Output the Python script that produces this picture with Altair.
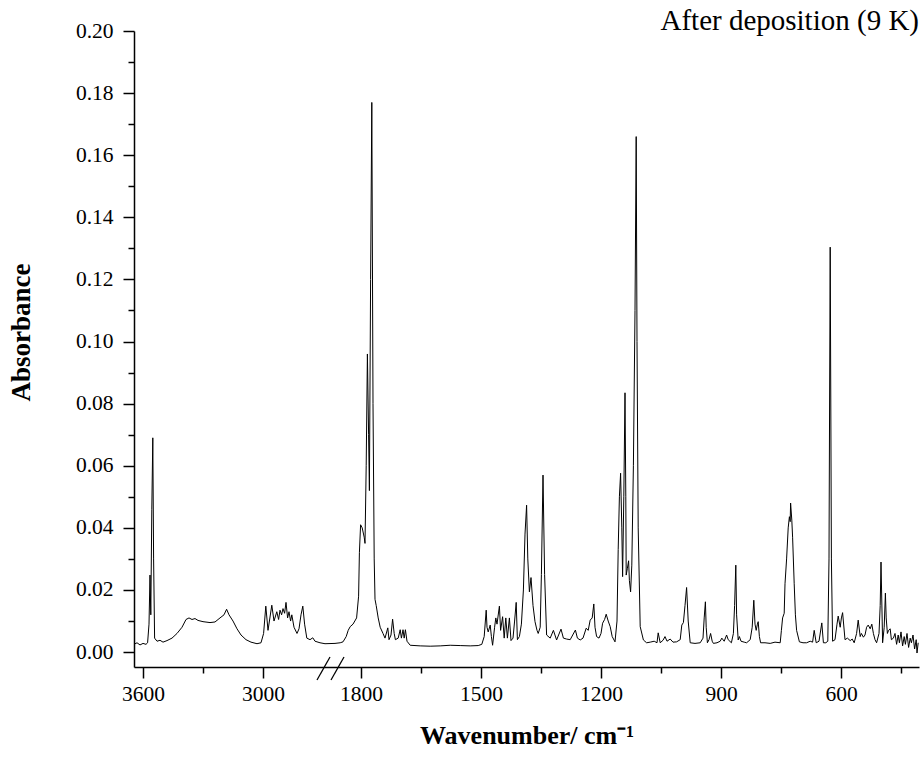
import altair as alt
import pandas as pd

# Wavenumber (cm-1) and absorbance
WN = [3645, 3630, 3615, 3600, 3585, 3577, 3570, 3565, 3561, 3556, 3551, 3547, 3542, 3530, 3515, 3500,
      3480, 3455, 3430, 3405, 3385, 3370, 3355, 3340, 3325, 3300, 3265, 3240, 3215, 3195, 3182, 3170,
      3150, 3130, 3110, 3085, 3060, 3030, 3010, 2997, 2986, 2975, 2956, 2945, 2931, 2922, 2915, 2907,
      2900, 2892, 2885, 2877, 2870, 2862, 2856, 2845, 2830, 2820, 2810, 2801, 2792, 2781, 2765, 2751,
      2740, 2715, 2690,
      1865, 1852, 1845, 1837, 1832, 1827, 1820, 1811, 1806, 1804, 1801, 1797, 1792, 1790, 1787, 1784,
      1781, 1779, 1776, 1773, 1770, 1767, 1765, 1762, 1757, 1752, 1745, 1740, 1733, 1730, 1725, 1721,
      1717, 1714, 1707, 1702, 1699, 1695, 1692, 1689, 1685, 1677, 1652, 1627, 1602, 1577, 1552, 1527,
      1507, 1498, 1492, 1487, 1485, 1482, 1477, 1474, 1471, 1466, 1463, 1460, 1454, 1451, 1446, 1442,
      1438, 1434, 1429, 1425, 1420, 1416, 1412, 1409, 1404, 1399, 1394, 1390, 1386, 1383, 1379, 1375,
      1370, 1365, 1360, 1357, 1352, 1349, 1345, 1341, 1336, 1327, 1319, 1311, 1300, 1294, 1286, 1277,
      1264, 1259, 1252, 1245, 1237, 1232, 1227, 1222, 1218, 1215, 1211, 1205, 1200, 1196, 1191, 1187,
      1182, 1177, 1172, 1165, 1160, 1157, 1154, 1151, 1148, 1146, 1143, 1140, 1138, 1137, 1134, 1131,
      1129, 1126, 1123, 1119, 1115, 1112, 1110, 1107, 1102, 1094, 1086, 1077, 1067, 1060, 1057, 1052,
      1045, 1040, 1035, 1027, 1020, 1011, 1002, 998, 994, 990, 986, 982, 977, 965, 952, 945,
      942, 939, 937, 934, 930, 926, 922, 919, 910, 902, 898, 892, 886, 882, 874, 869,
      866, 863, 861, 857, 854, 850, 842, 836, 827, 822, 818, 815, 812, 809, 807, 804,
      801, 790, 777, 765, 752, 749, 746, 742, 740, 736, 732, 729, 727, 726, 723, 721,
      717, 714, 711, 704, 695, 686, 677, 671, 667, 662, 655, 648, 644, 638, 633, 630,
      627, 624, 621, 615, 610, 607, 602, 599, 596, 590, 584, 577, 572, 567, 561, 557,
      552, 549, 544, 540, 536, 532, 527, 523, 519, 515, 511, 505, 502, 500, 497, 496,
      492, 489, 487, 484, 481, 477, 474, 469, 465, 461, 457, 454, 450, 446, 442, 439,
      435, 431, 427, 424, 420, 416, 412, 410, 407]

ABS = [0.0025, 0.0030, 0.0023, 0.0028, 0.0025, 0.0030, 0.0090, 0.0248, 0.0120, 0.0460, 0.0690, 0.0300, 0.0045, 0.0035, 0.0038, 0.0032,
       0.0037, 0.0045, 0.0060, 0.0080, 0.0105, 0.0110, 0.0105, 0.0108, 0.0102, 0.0098, 0.0095, 0.0097, 0.0110, 0.0120, 0.0138, 0.0120,
       0.0100, 0.0075, 0.0055, 0.0040, 0.0032, 0.0027, 0.0030, 0.0060, 0.0148, 0.0070, 0.0151, 0.0100, 0.0130, 0.0105, 0.0135, 0.0120,
       0.0140, 0.0125, 0.0160, 0.0110, 0.0130, 0.0100, 0.0120, 0.0080, 0.0060, 0.0075, 0.0120, 0.0148, 0.0090, 0.0045, 0.0040, 0.0046,
       0.0035, 0.0030, 0.0027,
       0.0028, 0.0030, 0.0033, 0.0050, 0.0070, 0.0082, 0.0090, 0.0110, 0.0180, 0.0320, 0.0410, 0.0400, 0.0370, 0.0350, 0.0600, 0.0960,
       0.0700, 0.0520, 0.1200, 0.1770, 0.0800, 0.0300, 0.0170, 0.0150, 0.0110, 0.0080, 0.0060, 0.0045, 0.0078, 0.0040, 0.0055, 0.0106,
       0.0060, 0.0040, 0.0045, 0.0072, 0.0045, 0.0072, 0.0045, 0.0072, 0.0035, 0.0022, 0.0020, 0.0019, 0.0020, 0.0022, 0.0021, 0.0020,
       0.0021, 0.0025, 0.0050, 0.0135, 0.0080, 0.0065, 0.0087, 0.0050, 0.0022, 0.0080, 0.0110, 0.0090, 0.0148, 0.0070, 0.0114, 0.0045,
       0.0110, 0.0045, 0.0110, 0.0037, 0.0045, 0.0100, 0.0160, 0.0040, 0.0050, 0.0090, 0.0200, 0.0380, 0.0473, 0.0300, 0.0194, 0.0240,
       0.0150, 0.0098, 0.0070, 0.0060, 0.0080, 0.0250, 0.0570, 0.0250, 0.0055, 0.0045, 0.0070, 0.0039, 0.0074, 0.0045, 0.0042, 0.0040,
       0.0071, 0.0045, 0.0039, 0.0045, 0.0077, 0.0070, 0.0103, 0.0110, 0.0155, 0.0080, 0.0050, 0.0045, 0.0060, 0.0093, 0.0105, 0.0122,
       0.0100, 0.0082, 0.0050, 0.0033, 0.0100, 0.0330, 0.0500, 0.0576, 0.0400, 0.0243, 0.0500, 0.0835, 0.0500, 0.0248, 0.0270, 0.0294,
       0.0230, 0.0194, 0.0280, 0.0600, 0.1100, 0.1660, 0.1000, 0.0400, 0.0082, 0.0039, 0.0030, 0.0032, 0.0035, 0.0030, 0.0062, 0.0030,
       0.0038, 0.0050, 0.0035, 0.0042, 0.0032, 0.0033, 0.0040, 0.0087, 0.0095, 0.0150, 0.0208, 0.0100, 0.0030, 0.0028, 0.0030, 0.0045,
       0.0110, 0.0162, 0.0080, 0.0030, 0.0040, 0.0060, 0.0035, 0.0028, 0.0030, 0.0035, 0.0045, 0.0035, 0.0055, 0.0040, 0.0030, 0.0060,
       0.0150, 0.0280, 0.0120, 0.0039, 0.0050, 0.0035, 0.0032, 0.0030, 0.0040, 0.0080, 0.0167, 0.0090, 0.0070, 0.0090, 0.0098, 0.0050,
       0.0030, 0.0030, 0.0028, 0.0032, 0.0030, 0.0070, 0.0110, 0.0125, 0.0220, 0.0300, 0.0400, 0.0436, 0.0420, 0.0480, 0.0425, 0.0370,
       0.0220, 0.0120, 0.0070, 0.0033, 0.0030, 0.0030, 0.0035, 0.0032, 0.0070, 0.0030, 0.0035, 0.0094, 0.0030, 0.0030, 0.0035, 0.0300,
       0.1304, 0.0300, 0.0035, 0.0040, 0.0090, 0.0116, 0.0080, 0.0110, 0.0127, 0.0040, 0.0045, 0.0037, 0.0042, 0.0030, 0.0060, 0.0103,
       0.0050, 0.0060, 0.0048, 0.0055, 0.0080, 0.0087, 0.0075, 0.0090, 0.0060, 0.0040, 0.0030, 0.0060, 0.0150, 0.0290, 0.0100, 0.0030,
       0.0080, 0.0190, 0.0110, 0.0060, 0.0070, 0.0075, 0.0040, 0.0045, 0.0060, 0.0025, 0.0055, 0.0030, 0.0065, 0.0020, 0.0050, 0.0025,
       0.0060, 0.0015, 0.0045, 0.0030, 0.0055, 0.0010, 0.0040, -0.0003, 0.0030]

X_MAJOR = [3600, 3000, 1800, 1500, 1200, 900, 600]
X_MINOR = [3300, 1650, 1350, 1050, 750, 450]
Y_MAJOR = [0.00, 0.02, 0.04, 0.06, 0.08, 0.10, 0.12, 0.14, 0.16, 0.18, 0.20]
Y_MINOR = [0.01, 0.03, 0.05, 0.07, 0.09, 0.11, 0.13, 0.15, 0.17, 0.19]
TITLE = ["After deposition (9 K)"]

FONT = "Liberation Serif"
W, H = 785, 636

df = pd.DataFrame({"wn": WN, "a": ABS})

xscale = alt.Scale(domain=[3645, 2680, 1870, 405], range=[0, 193, 199, W], nice=False, zero=False)
yscale = alt.Scale(domain=[-0.0048, 0.20], nice=False, zero=False)

x_major = alt.Axis(values=X_MAJOR, format="d", orient="bottom", tickSize=11, tickWidth=1.5,
                   domainWidth=1.5, labelFont=FONT, labelFontSize=21.5, labelPadding=5,
                   labelFlush=False, labelOverlap=False, grid=False,
                   title="Wavenumber/ cm\u207b\u00b9", titleFont=FONT,
                   titleFontSize=26, titleFontWeight="bold", titlePadding=18)
y_major = alt.Axis(values=Y_MAJOR, format=".2f", orient="left", tickSize=11, tickWidth=1.5,
                   domainWidth=1.5, labelFont=FONT, labelFontSize=21.5, labelPadding=10,
                   labelOverlap=False, grid=False, title="Absorbance", titleFont=FONT,
                   titleFontSize=27, titleFontWeight="bold", titlePadding=40, titleY=301)
x_minor = alt.Axis(values=X_MINOR, orient="bottom", tickSize=6, tickWidth=1.5, labels=False,
                   domain=False, grid=False, title="")
y_minor = alt.Axis(values=Y_MINOR, orient="left", tickSize=6, tickWidth=1.5, labels=False,
                   domain=False, grid=False, title="")

spectrum = alt.Chart(df).mark_line(color="black", strokeWidth=1).encode(
    x=alt.X("wn:Q", scale=xscale, axis=x_major),
    y=alt.Y("a:Q", scale=yscale, axis=y_major),
)
minor = alt.Chart(df).mark_line(strokeOpacity=0).encode(
    x=alt.X("wn:Q", scale=xscale, axis=x_minor),
    y=alt.Y("a:Q", scale=yscale, axis=y_minor),
)

brk = pd.DataFrame({"k": [0]})
slash1 = alt.Chart(brk).mark_rule(color="black", strokeWidth=1.3).encode(
    x=alt.value(183), x2=alt.value(196), y=alt.value(H + 13), y2=alt.value(H - 10))
slash2 = alt.Chart(brk).mark_rule(color="black", strokeWidth=1.3).encode(
    x=alt.value(197), x2=alt.value(210), y=alt.value(H + 13), y2=alt.value(H - 10))

title = alt.Chart(pd.DataFrame({"t": TITLE})).mark_text(
    font=FONT, fontSize=29, align="right", baseline="alphabetic", color="black"
).encode(text="t:N", x=alt.value(W), y=alt.value(-1))

chart = alt.layer(spectrum, minor, slash1, slash2, title).resolve_axis(
    x="independent", y="independent"
).properties(
    width=W, height=H,
    autosize=alt.AutoSizeParams(type="none"),
    padding={"left": 134, "top": 31, "right": 1, "bottom": 92},
).configure_axis(
    labelFont=FONT, titleFont=FONT, domainColor="black", tickColor="black",
    labelColor="black", titleColor="black"
).configure_view(strokeWidth=0)

chart.save("out.html", embed_options={"renderer": "svg", "actions": False})
